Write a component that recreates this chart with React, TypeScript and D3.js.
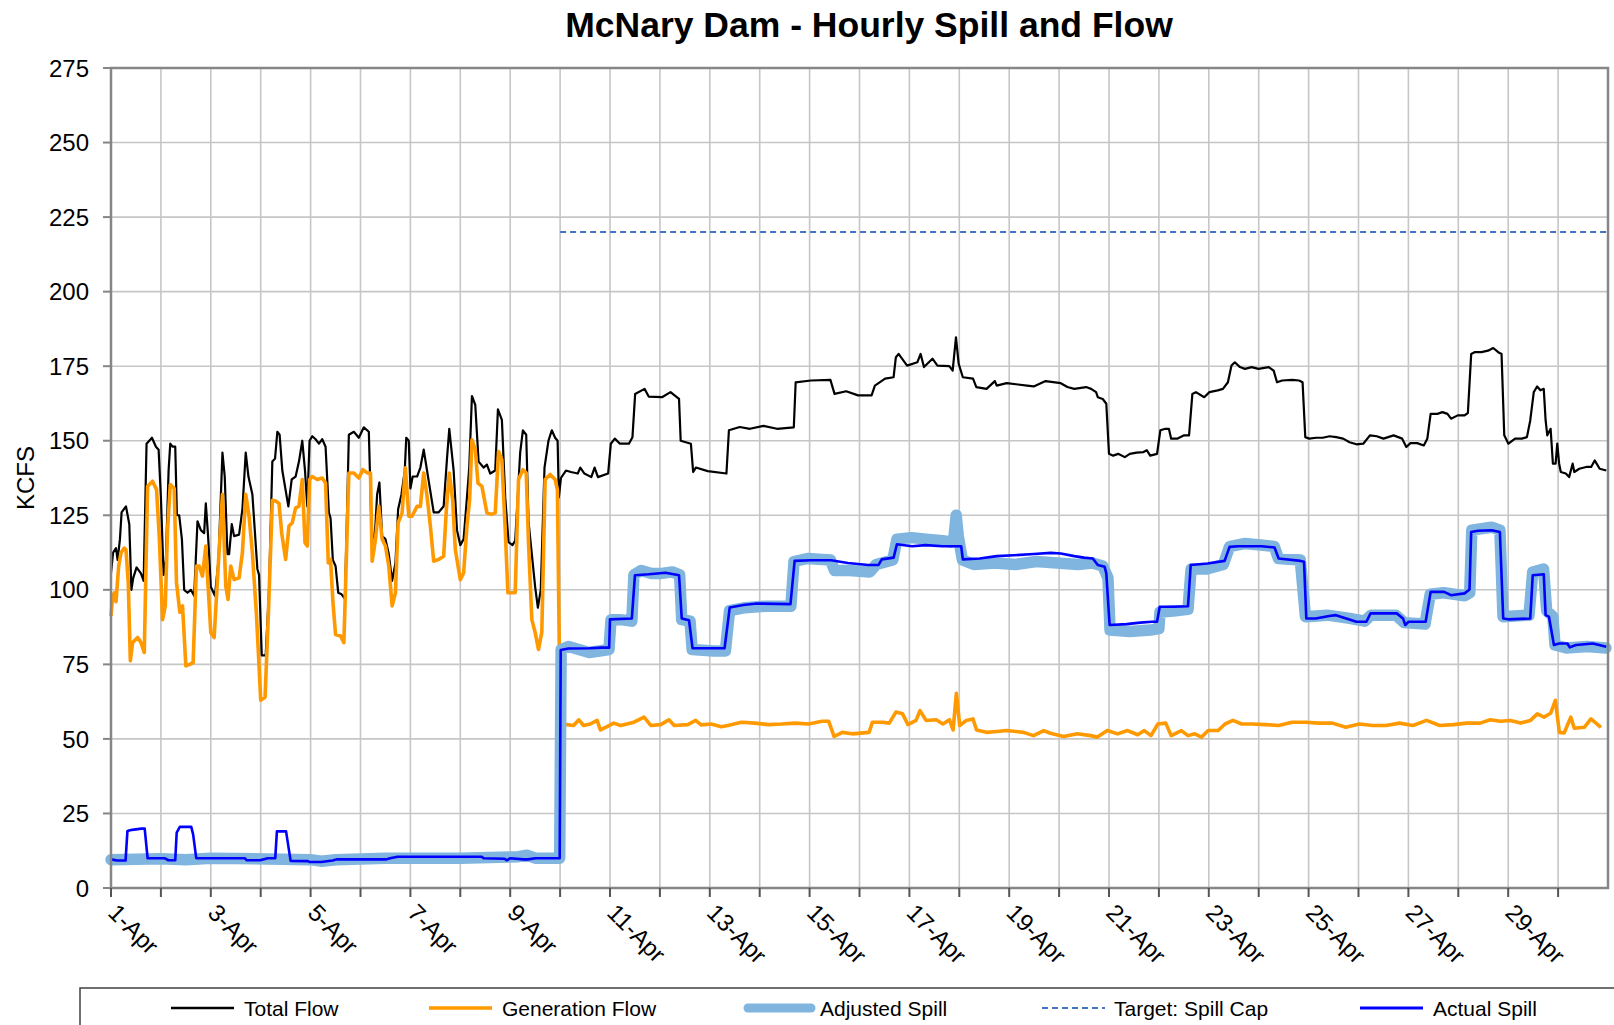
import React from "react";
import * as d3 from "d3";

// ---------- DATA (hour offset from 1-Apr 00:00, value in KCFS) ----------
const dayLabels = ["1-Apr","3-Apr","5-Apr","7-Apr","9-Apr","11-Apr","13-Apr","15-Apr","17-Apr","19-Apr","21-Apr","23-Apr","25-Apr","27-Apr","29-Apr"];
const yTicks = [0,25,50,75,100,125,150,175,200,225,250,275];

const totalFlow: [number, number][] = [
[0,105.7],[1,112.5],[2.4,114],[3.2,110],[4.3,117],[5.1,126],[7.2,128],[8.8,122],[9.8,100],[10.7,104],[12.3,107.5],[14.4,105.5],[15.7,103],[17.1,149],[19.7,151],[21.6,148],[22.9,147],[24,131],[25.3,105],[26.4,110],[27.7,140],[28.5,149],[29.6,148],[30.9,148],[31.7,125],[32.8,125],[34.1,117],[35.2,100],[36.8,99],[38.4,100],[40,98],[41.6,123],[43.2,120],[44.8,119],[45.6,129],[46.7,118],[48,101],[50,98],[51.7,110],[53.6,146],[54.7,138],[56,112],[56.8,112],[58.1,122],[59.2,118],[61.6,118.5],[63.2,127],[64.8,146],[66.1,138],[68,132],[70.4,107],[71.2,105],[72.5,78],[74.4,78],[76,100],[77.6,143],[78.9,144],[80,153],[81.1,152],[82.4,140],[85.3,128],[86.9,137],[88.8,138],[90.4,143],[92,150],[93.3,140],[94.4,128],[95.5,150],[96.8,151.5],[98.4,150.5],[100,149],[101.6,150.5],[103.2,148],[104.8,126],[105.6,124],[106.7,110],[108,108],[109.3,99],[110.9,98.5],[112.5,97],[113.6,128],[114.4,152],[116.8,153],[119.2,151],[121.6,154.5],[124,153],[125.1,125],[126.4,112],[128,132],[129.1,136],[130.4,118],[132,117],[133.6,112],[135.2,103],[136.8,109],[138.1,127],[139.7,132],[141.3,140],[142,151],[143.2,150],[144,134],[145.1,138],[147.2,138],[148.8,141],[150.4,147],[152,140],[153.6,133],[155.2,126],[157.6,126],[160,128],[161.6,144],[162.7,154],[164.8,140],[166.4,120],[168,115],[169.6,117],[171.2,131],[172.3,141],[173.6,165],[175.2,162],[176.8,143],[179.2,141],[180.8,142],[182.4,139],[184.8,140],[186.1,160.5],[188,157],[189.6,131],[191.2,116],[193.1,115],[194.4,116.5],[195.7,132],[196.8,146],[198.1,153.5],[199.7,152],[200.8,123],[202.4,112],[204,101],[205.3,94],[206.7,100],[208.5,141],[210.4,150],[212,153.5],[213.6,151],[214.8,150],[215.4,131],[216.4,137.5],
[218.8,140],[221.2,139.5],[224.5,139],[225.7,141],[227.7,139],[231,137.8],[232.6,141],[234.2,137.8],[239.1,139],[240.4,149],[242.3,150.7],[244.8,149],[249.1,149],[250.8,151.2],[252.1,165.7],[256.6,167.4],[258.6,164.8],[265,164.6],[269.1,166.3],[273.2,164],[274,150],[278.9,149],[280,139.5],[281.3,141],[287,139.8],[296,139],[297.2,153.5],[302.4,154.6],[307.3,154],[313.8,155],[320.3,154],[328.4,154.5],[329.3,169.6],[336.6,170.2],[346,170.4],[348,165.7],[353.6,166.6],[359.3,165.2],[365.8,165.2],[367.4,168.5],[372.3,170.8],[376.4,171.3],[377.5,178],[378.8,179.1],[382.9,175.2],[387.8,176.3],[389.4,179.1],[391,174.7],[395.1,177.5],[397.5,175.2],[403.2,175],[404.8,173.5],[406.4,184.7],[407.7,175.8],[409.7,171.3],[414.6,170.8],[416.2,168],[421.1,167.4],[425.1,170],[426,168.5],[430.8,169.3],[440.6,168.5],[443.8,168.2],[449.5,170],[456.8,169.3],[460,168],[463.3,167.4],[469,168],[471.4,167.4],[473.8,166.3],[474.6,164.6],[477,164],[478.7,162.4],[480,145.6],[482,145],[484.4,145.6],[487.6,144.5],[490,145.6],[493.3,146],[496.6,146.2],[498.2,146.8],[499.8,145],[503.1,145.6],[504.7,153.5],[507.1,154],[508.8,154],[509.9,150.7],[512.8,150.7],[516.1,151.8],[518.5,151.8],[520.1,165.7],[521.8,166.3],[525.8,164.6],[528.3,166.3],[532.3,166.9],[534.8,167.4],[537.2,169.6],[538.9,175.2],[540.5,176.3],[543,174.7],[545.4,174.1],[548.6,174.7],[551.9,174.1],[556.8,174.7],[559.2,173.5],[560.8,169.6],[563.3,170.2],[568.2,170.4],[571.4,170.2],[573.1,169.6],[574.4,151.2],[576.3,150.7],[579.6,151],[582.8,151],[586.1,151.5],[589.3,151.2],[592.6,150.7],[595.7,149.5],[599,148.8],[602.3,149],[605.5,151.8],[608.8,151.5],[612,150.7],[616.9,151.8],[621,150.7],[623,147.9],[625,149.2],[628.2,149.2],[631.4,148.4],[633.1,150.7],[634.7,159],[637.9,159],[640.4,159.6],[642.8,159],[644.5,157.4],[647.7,158.5],[651,158.5],[652.6,159.3],[654.2,179.1],[655.8,179.7],[659.1,179.7],[662.3,180.2],[664.8,181.1],[667.2,179.7],[668.8,179.1],[670.1,151.8],[672.1,149],[675.3,150.7],[678.6,150.7],[681,151.2],[682.6,156.8],[684.3,166.3],[685.9,168.2],[687.5,166.9],[689.1,167.4],[690,156.8],[690.8,151.8],[692.4,154],[693.5,142.3],[694.8,142.3],[695.6,149],[696.5,142.3],[697.3,139.5],[699.7,139],[701.3,137.8],[703,142.3],[703.8,139.5],[706.2,140.6],[709.5,141.2],[711.9,141.2],[713.6,143.4],[716,140.6],[719.2,140]
];

const generationFlow: [number, number][] = [
[0,91.2],[0.8,98],[1.6,99],[2.4,96],[3.7,108],[4.8,112.4],[6.4,114],[7.2,113.5],[8.3,102.4],[9.3,76.2],[10.4,82.3],[12.8,84],[14.4,82.3],[16,79],[17.6,134.7],[20,136.4],[21.9,133.6],[23.2,118],[24.8,90],[26.1,94.6],[27.2,120],[28.5,135.3],[30.4,134],[31.5,102.4],[33.1,92.5],[34.4,94.6],[36,74.5],[37.9,75],[39.5,75.6],[41.1,108],[42.4,108],[44,104.6],[45.6,114.7],[46.7,101.2],[48,85.6],[49.6,84],[51.2,103.4],[53.6,132],[55.2,101.2],[56.3,96.8],[57.6,108],[59.2,103.4],[61.6,104],[63.2,112.4],[64.8,132],[66.4,124.7],[68,112.4],[69.9,92.4],[71.2,74.5],[72,63],[74.1,64],[75.7,92],[77.6,130],[79.2,129.8],[80.8,129],[82.1,119],[84,110.2],[85.6,121.4],[87.2,122.5],[88.8,127.5],[90.4,128],[92,137],[93.3,115.8],[94.4,114.7],[95.5,137],[96.8,138],[99.2,137],[101.6,137.5],[103.2,135.8],[104.5,109],[105.6,110.2],[106.7,96.3],[108,85],[110.4,84.5],[112,82.3],[113.1,108],[114.4,139.2],[116.8,139.2],[119.2,137.5],[121.1,140.3],[123.2,139.2],[124.8,139.2],[125.6,109.6],[127.2,117],[128.8,128],[130.4,117],[132,114.7],[133.6,108],[135.2,94.6],[136.8,99],[138.1,122.5],[140,125.8],[141.6,140.9],[143.2,124.7],[144.8,124.7],[147.2,128],[148.8,128],[150.4,139.2],[152,131.4],[153.6,121.4],[155.2,109.6],[157.6,110.2],[160,111.3],[161.3,127],[162.7,139.2],[164.3,130.3],[165.6,113.5],[168,103.4],[169.6,105.7],[171.2,121.4],[172.5,130.3],[173.6,150.3],[175.2,147],[176.5,135.8],[178.4,134.7],[180.8,125.8],[182.9,125.3],[184.8,125.8],[186.4,146.4],[188,143.6],[189.6,120.2],[190.9,99],[194.4,99],[196,137],[198.1,140.3],[199.7,139.2],[200.8,115.8],[202.4,90],[204,85.7],[205.6,80],[207.2,85.7],[208.8,137],[211.2,138.7],[213.6,137],[214.7,133.6],[215.7,75],
[216,55],[219.2,54.8],[222.5,54.5],[225,56.4],[227.3,54.5],[230.5,55],[233.8,56.2],[235.4,53],[238.6,54.1],[241.8,55.3],[245.1,54.5],[251.5,55.6],[256.4,57.3],[259.6,54.5],[264.4,54.8],[268.3,56.4],[270.9,54.5],[277.4,54.8],[281.2,56.2],[283.8,54.7],[288.7,55],[293.5,54.1],[296.7,54.5],[303.2,55.6],[309.7,55.3],[316.1,54.8],[322.6,55],[329,55.3],[335.5,55],[342,55.9],[345.2,55.9],[347.8,50.8],[351.7,52.2],[356.5,51.7],[364.6,52.2],[366.2,55.6],[371,55.6],[374.3,55.3],[377.5,59],[380.7,58.4],[383.3,54.8],[387.2,56.2],[389.1,59.5],[392,56.2],[396.9,56.4],[400.1,55],[403.3,56.4],[405,53],[406.6,65.3],[408.2,54.5],[411.4,56.2],[414.6,56.7],[416.3,53],[421.1,52.2],[426,52.5],[430.8,52.8],[438.9,52.2],[443.7,51.1],[448.6,52.8],[451.8,51.9],[458.2,50.8],[464.7,51.7],[471.2,51.1],[474.4,50.6],[479.2,52.8],[484.1,51.7],[488.9,52.8],[493.8,51.4],[497,52.8],[500.2,51.1],[503.5,55],[507.3,55.3],[509.9,51.1],[514.8,52.8],[518,51.1],[521.2,51.7],[524.5,50.6],[527.7,52.8],[532.5,52.8],[535.8,55],[539.6,56.2],[543.8,55],[548.7,55],[555.1,54.8],[561.6,54.5],[568,55.6],[574.5,55.6],[581,55.3],[587.4,55.3],[593.9,53.9],[600.4,55],[606.8,54.5],[613.3,54.5],[619.7,55.3],[626.2,54.5],[632.7,56.2],[639.1,54.5],[645.6,54.8],[652,55.3],[658.5,55.3],[663.4,56.4],[668.2,55.9],[673.1,56.2],[677.9,55.3],[682.7,56.2],[686,58.4],[689.2,57.3],[692.4,58.6],[694.7,62.9],[696.6,52.2],[698.9,52],[702.1,57.3],[703.8,53.6],[708.6,53.9],[711.8,56.7],[716.6,53.9]
];

const adjustedSpill: [number, number][] = [
[0,9.5],[24,9.8],[36,9.5],[48,10],[96,9.5],[101,9],[108,9.5],[132,10],[168,10],[196,10.5],[200,11],[204,10],[215.8,10],
[216.5,80],[220,81],[225,80],[230,79],[235,79.5],[239.5,80],[240.5,90],[245,90],[250.5,89.5],[251.5,105],[255,106.5],[260,105.5],[265,105.5],[270,106],[273.5,105],[274.5,90],[278.5,89.5],[279.5,80],[290,79.5],[295.5,79.5],[297.5,93],[305,94],[315,94.5],[327,94.5],[328.5,109.5],[335,110.5],[346,110],[348,106.5],[355,106.5],[365,106],[368,108.5],[376,110],[378,117],[385,117.5],[392,117],[400,116.5],[404,116],[405.5,118],[406.5,125],[407.5,118],[409.5,110],[415,108.5],[425,109],[435,108.5],[445,109.5],[455,109],[465,108.5],[472,109],[477,108],[479.5,104],[480.5,86.5],[490,86],[500,86.5],[504,87],[504.5,92.5],[512,93],[518,93.5],[519.5,107],[527,107],[535,108.5],[538,114.5],[545,115.5],[553,115],[559.5,114.5],[561.5,110.5],[572,110],[574.5,91],[585,91.5],[595,90.5],[603,89.5],[606,91.5],[618,91.5],[622,89],[632,88.5],[634.5,98.5],[641,99],[651,98],[653.5,99],[654.5,120],[664,121],[668,120],[669.5,91],[682,91.5],[683.8,106],[689,107],[690.5,93],[693.5,91],[694.5,81.5],[700,80.5],[710,81],[719,80.5]
];

const actualSpill: [number, number][] = [
[0,9.6],[3,9.2],[7,9.2],[7.9,19.1],[10.1,19.5],[14.7,19.9],[16.2,19.9],[17.6,10],[25.7,10],[27.6,9.3],[30.9,9.3],[31.6,18.6],[33.1,20.5],[38.6,20.5],[39.5,18],[41,10],[64.3,10],[65.3,9.3],[71.7,9.3],[75.4,10],[79,10],[79.8,19],[84.2,19],[86.4,9.1],[94.7,9],[95.6,8.7],[101.1,8.7],[106.6,9.2],[108.5,9.6],[132.4,9.6],[134.2,10],[137.9,10.5],[178.3,10.5],[179.2,10],[189.3,9.8],[190.3,9.3],[192.1,10],[198.5,9.6],[200.4,9.6],[204.2,10],[215.8,10],
[216.3,79.8],[220,80.3],[230,80.4],[236,80.6],[239.6,80.6],[240,90.1],[250.5,90.4],[252,104.9],[258.6,105.2],[266.7,105.7],[273.2,104.9],[274.5,90.4],[278,89.8],[279.7,80.4],[295.1,80.4],[297.6,94.1],[304.1,94.9],[310.6,95.4],[326.8,95.2],[328.8,109.7],[336.6,109.9],[346.3,109.9],[354.4,109],[364.2,108.3],[369.1,108.3],[370.7,110.2],[376.4,110.8],[378,115.3],[385.3,114.6],[391.8,115],[399.9,114.6],[408.9,114.6],[409.7,110.2],[417.8,110.5],[426,111.3],[434.1,111.6],[443.8,112],[452,112.4],[456.8,112.2],[463.3,111.3],[467.9,110.8],[472.2,110.5],[474.6,108.3],[477.9,107.7],[478.7,105.5],[480.3,88.2],[488.4,88.5],[495,89],[500.6,89.3],[503.1,89.3],[504.4,94.3],[511.2,94.3],[518,94.5],[519.3,108.3],[527.4,108.8],[535.6,109.7],[538,114.4],[542.1,114.6],[553.4,114.6],[559.6,114.2],[561.6,110.5],[572.1,109.7],[573.8,109.4],[574.9,90.4],[579.4,90.4],[585.9,91.2],[589.2,91.5],[594.1,90.4],[599,89.3],[603.8,89.3],[605.8,92.1],[618.4,92.1],[621.4,90.4],[622.5,88.2],[624.1,89.3],[632.3,89.3],[634.7,99.3],[641.2,99.3],[644.5,98.2],[651,98.8],[653.4,100.1],[654.2,119.4],[657.5,119.8],[664,120],[668,119.4],[669.6,90.4],[672.1,90.1],[682.6,90.4],[683.8,104.9],[689.1,105.2],[690,91.5],[691.6,91],[694,81.5],[696.5,82],[700.5,82],[701.6,80.7],[704.6,81.5],[712.7,82],[719.2,80.9]
];

const spillCap: [number, number][] = [[216,220],[720,220]];

const legendItems = [
  { label: "Total Flow", color: "#000000", width: 2.5, dash: "", lx: 171, tx: 244 },
  { label: "Generation Flow", color: "#ff9900", width: 3.5, dash: "", lx: 429, tx: 502 },
  { label: "Adjusted Spill", color: "#7fb5de", width: 9, dash: "", lx: 748, tx: 820 },
  { label: "Target: Spill Cap", color: "#4472c4", width: 2, dash: "6,4", lx: 1042, tx: 1114 },
  { label: "Actual Spill", color: "#0000ff", width: 3, dash: "", lx: 1360, tx: 1433 },
];

// ---------- LAYOUT ----------
const W = 1614, H = 1025;
const L = 111, R = 1608, T = 68, B = 888;
const FONT = "'Liberation Sans', Arial, Helvetica, sans-serif";

export default function App() {
  const x = d3.scaleLinear().domain([0, 720]).range([L, R]);
  const y = d3.scaleLinear().domain([0, 275]).range([B, T]);
  const line = d3.line<[number, number]>().x(d => x(d[0])).y(d => y(d[1]));
  const dayTicks = d3.range(0, 720, 24);

  return (
    <svg width={W} height={H} style={{ position: "absolute", left: 0, top: 0, background: "#fff" }} fontFamily={FONT}>
      <rect x={0} y={0} width={W} height={H} fill="#fff" />
      <text x={869} y={37} textAnchor="middle" fontSize={35.5} fontWeight="bold" fill="#000">McNary Dam - Hourly Spill and Flow</text>

      {/* gridlines */}
      {yTicks.map(t => (
        <line key={"gy" + t} x1={L} x2={R} y1={y(t)} y2={y(t)} stroke="#c6c6c6" strokeWidth={1.6} />
      ))}
      {dayTicks.map(h => (
        <line key={"gx" + h} x1={x(h)} x2={x(h)} y1={T} y2={B} stroke="#c6c6c6" strokeWidth={1.6} />
      ))}

      {/* series */}
      <path d={line(totalFlow) || ""} fill="none" stroke="#000" strokeWidth={2.2} strokeLinejoin="round" />
      <path d={line(generationFlow) || ""} fill="none" stroke="#ff9900" strokeWidth={3.6} strokeLinejoin="round" />
      <path d={line(adjustedSpill) || ""} fill="none" stroke="#7fb5de" strokeWidth={11.5} strokeLinejoin="round" strokeLinecap="round" />
      <path d={line(spillCap) || ""} fill="none" stroke="#4472c4" strokeWidth={2} strokeDasharray="6,4" />
      <path d={line(actualSpill) || ""} fill="none" stroke="#0000ff" strokeWidth={2.6} strokeLinejoin="round" />

      {/* plot border */}
      <rect x={L} y={T} width={R - L} height={B - T} fill="none" stroke="#868686" strokeWidth={2.5} />

      {/* y axis ticks + labels */}
      {yTicks.map(t => (
        <g key={"yt" + t}>
          <line x1={L - 8} x2={L} y1={y(t)} y2={y(t)} stroke="#868686" strokeWidth={2} />
          <text x={89} y={y(t)} dy="0.36em" textAnchor="end" fontSize={24} fill="#000">{t}</text>
        </g>
      ))}
      <text transform={`translate(34,${(T + B) / 2}) rotate(-90)`} textAnchor="middle" fontSize={24} fill="#000">KCFS</text>

      {/* x axis ticks + labels */}
      {dayTicks.map(h => (
        <line key={"xt" + h} x1={x(h)} x2={x(h)} y1={B} y2={B + 9} stroke="#555" strokeWidth={2} />
      ))}
      {dayLabels.map((lab, i) => (
        <text key={lab} transform={`translate(${x(i * 48) + 8},${B + 14}) rotate(45)`} dy="0.72em" textAnchor="start" fontSize={24} fill="#000">{lab}</text>
      ))}

      {/* legend */}
      <rect x={80} y={988} width={1600} height={100} fill="#fff" stroke="#404040" strokeWidth={1.5} />
      {legendItems.map(it => (
        <g key={it.label}>
          <line x1={it.lx} x2={it.lx + 63} y1={1008} y2={1008} stroke={it.color} strokeWidth={it.width} strokeDasharray={it.dash || undefined} strokeLinecap={it.width > 5 ? "round" : "butt"} />
          <text x={it.tx} y={1008} dy="0.36em" fontSize={21} fill="#000">{it.label}</text>
        </g>
      ))}
    </svg>
  );
}
